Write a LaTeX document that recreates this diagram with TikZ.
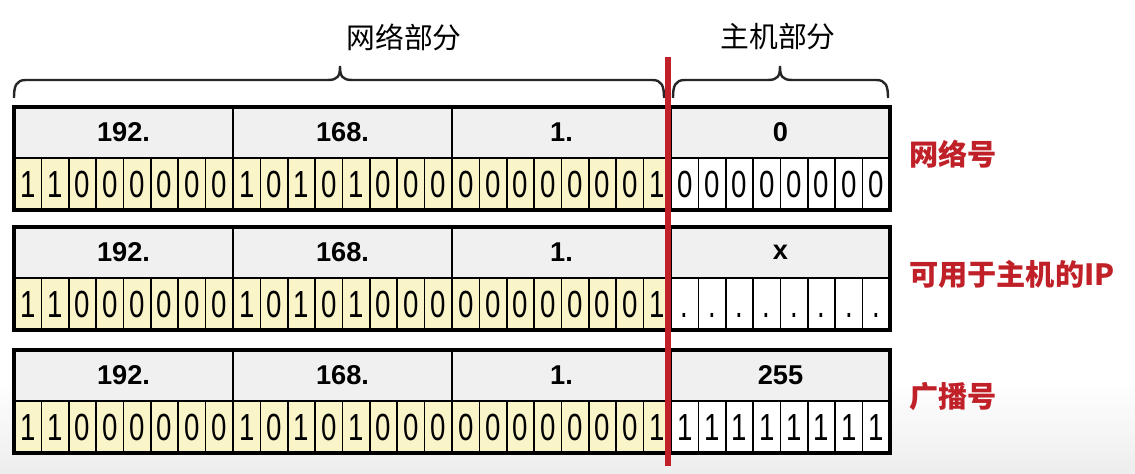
\documentclass[tikz,border=0pt]{standalone}
\usepackage{fontspec}
\setmainfont{Liberation Sans}
\newfontfamily\cjk{Noto Sans CJK SC}
\usetikzlibrary{positioning, calc}
\definecolor{hdrgray}{RGB}{240,240,240}
\definecolor{bityellow}{RGB}{250,245,200}
\definecolor{splitred}{RGB}{192,32,40}
\tikzstyle{splitline}=[line width=3pt, color=splitred]
\tikzstyle{bracket}=[line width=1.2pt, color=black!85]
\newcommand{\partbrace}[3]{%
  \draw[bracket] (#1,98) .. controls (#1,86) and (#1+2,80) .. (#1+12,80)
    -- (#2-12,80) .. controls (#2-2,80) and (#2,76) .. (#2,66)
    .. controls (#2,76) and (#2+2,80) .. (#2+12,80)
    -- (#3-12,80) .. controls (#3-2,80) and (#3,86) .. (#3,98);}

\begin{document}
\begin{tikzpicture}[x=0.5pt, y=-0.5pt,
  hdrcell/.style={rectangle, draw=black, line width=0.8pt, fill=hdrgray,
                  minimum width=109.5pt, minimum height=25.5pt, inner sep=0pt,
                  font=\bfseries\fontsize{13.6}{14}\selectfont},
  bitcell/.style={rectangle, draw=black, line width=0.8pt, fill=bityellow,
                  minimum width=13.6875pt, minimum height=26pt, inner sep=0pt,
                  font=\fontsize{13.8}{14}\selectfont},
  hostbit/.style={bitcell, fill=white},
  rowframe/.style={draw=black, line width=2pt},
  partlabel/.style={font=\cjk\fontsize{14.4}{16}\selectfont},
  rowlabel/.style={anchor=west, text=splitred, font=\cjk\bfseries\fontsize{14.6}{16}\selectfont}
]
\useasboundingbox (0,0) rectangle (1135,474);
\fill[top color=white, bottom color=black!7] (0,380) rectangle (1135,474);

\foreach \r/\top/\hostval/\hbit/\tag in {1/107/0/0/网络号,
    2/227/x/./可用于主机的IP, 3/350/255/1/广播号}{
  \foreach \val [count=\k] in {192.,168.,1.}
    \node[hdrcell] (h\r-\k) at ({14+219*(\k-0.5)},\top+25.5) {\val};
  \node[hdrcell] (h\r-4) at ({14+219*3.5},\top+25.5) {\hostval};
  \foreach \bit [count=\i] in {1,1,0,0,0,0,0,0,1,0,1,0,1,0,0,0,0,0,0,0,0,0,0,1}
    \node[bitcell] (b\r-\i) at ({14+27.375*(\i-0.5)},\top+77)
      {\scalebox{1}[1.37]{\vphantom{0}\bit}};
  \foreach \i in {25,...,32}
    \node[hostbit] (b\r-\i) at ({14+27.375*(\i-0.5)},\top+77)
      {\scalebox{1}[1.37]{\vphantom{0}\hbit}};
  \draw[rowframe] (14,\top) rectangle (890,\top+103);
  \node[rowlabel] (tag\r) at (902,\top+47) {\tag};
}

\partbrace{14}{340}{664}
\partbrace{673}{780}{888}
\node[partlabel] (netpart) at (404,37) {网络部分};
\node[partlabel] (hostpart) at (778,37) {主机部分};

\coordinate (cuttop) at (667.5,57);
\coordinate (cutbot) at (667.5,466);
\draw[splitline] (cuttop) -- (cutbot);
\end{tikzpicture}
\end{document}
